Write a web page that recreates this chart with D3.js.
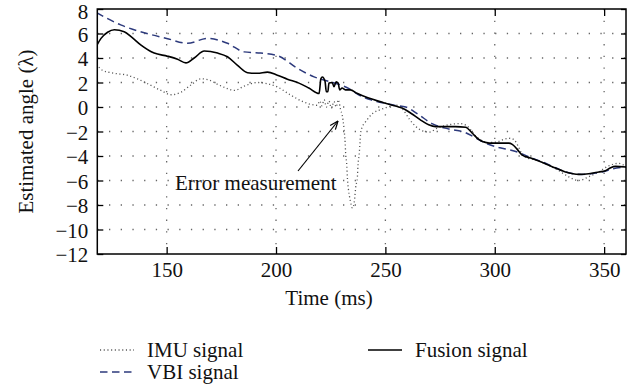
<!DOCTYPE html>
<html>
<head>
<meta charset="utf-8">
<script src="https://cdn.jsdelivr.net/npm/d3@7"></script>
<style>
  html, body { margin: 0; padding: 0; background: #fff; }
  svg { display: block; font-family: "Liberation Serif", "DejaVu Serif", serif; }
</style>
</head>
<body>
<svg id="chart" width="637" height="389"></svg>
<script>
// ---- data ----
const xTicks = [150, 200, 250, 300, 350];
const yTicks = [-12, -10, -8, -6, -4, -2, 0, 2, 4, 6, 8];

const imuT = [118, 120.6, 126.1, 132, 136.6, 141.3, 147.4, 152, 156.5, 161.1, 165.7, 169.5, 173.3, 177.8, 181, 185.4, 191.5, 196.1, 200.6, 206.8, 212.8, 218.9,
  220, 221, 222, 223, 224.2, 225.3, 226.5, 227.5, 228.5, 229.5, 230.3, 231.1, 231.6, 231.9, 232.3, 232.6, 233.1, 233.7, 234.4, 234.9,
  235.4, 236.0, 236.4, 237.2, 237.5, 238.0, 238.4, 238.7, 239.5, 241.0, 244.0, 248, 252, 255, 258, 261, 264, 267, 270, 274, 279, 284, 287,
  292, 297, 301, 304, 307, 309, 311, 313, 320, 329.3, 333.8, 338.4, 342.9, 347.5, 352.1, 356.7, 360];
const imuV = [3.5, 3.0, 2.75, 2.6, 2.3, 1.9, 1.35, 1.0, 1.2, 1.8, 2.3, 2.2, 1.85, 1.5, 1.35, 1.7, 2.0, 1.9, 1.64, 0.96, 0.4, 0.14,
  0.5, 0.1, 0.6, 0.0, 0.5, -0.1, 0.45, 0.0, 0.6, -0.2, -0.7, -1.8, -2.9, -4.0, -4.6, -5.7, -6.7, -7.4, -8.0, -8.25,
  -8.1, -7.4, -6.6, -5.7, -4.7, -3.9, -2.9, -2.1, -1.6, -1.2, -0.55, -0.2, 0.05, 0.15, -0.2, -1.0, -1.6, -1.95, -2.05, -1.7, -1.45, -1.35, -1.5,
  -2.5, -2.9, -2.85, -2.65, -2.55, -2.7, -3.3, -4.0, -4.4, -5.2, -5.7, -6.0, -5.7, -5.3, -4.8, -4.6, -4.9];

const vbiT = [118, 129, 141, 150, 159.5, 168.7, 177.8, 185.4, 193, 200.6, 209.8, 217.4, 224, 229.6, 233.4, 237.2, 243, 248.5, 254, 259.3, 265, 271.3,
  279, 286.7, 291, 295.8, 301.8, 307, 311.5, 316, 322, 327, 332.3, 336, 339.8, 344, 349, 354, 360];
const vbiV = [7.7, 6.7, 6.0, 5.6, 5.2, 5.6, 5.2, 4.5, 4.4, 4.2, 3.15, 2.46, 2.1, 1.8, 1.5, 1.05, 0.6, 0.35, 0.15, 0.0, -0.6, -1.36,
  -1.8, -2.1, -2.5, -2.95, -3.3, -3.5, -3.75, -4.1, -4.5, -4.9, -5.3, -5.45, -5.5, -5.45, -5.3, -5.05, -4.9];

const fusT = [118, 120, 123, 126.1, 130.6, 134, 138.3, 144.3, 150.4, 155, 158.8, 162.6, 167.2, 173.3, 177.8, 182.4, 187, 191.5, 196.1, 200.6, 205.2, 210.5, 215, 219.7,
  220.5, 221.2, 222.4, 223.0, 223.7, 224.2, 225.7, 226.5, 227.5, 228.4, 229.1, 230.2, 231.7, 234.0, 237.0,
  242, 248.3, 252, 256.1, 259, 262, 266, 269.8, 273, 277.5, 282, 286.7, 289.5, 292.7, 297.3, 302, 306.4, 308, 310, 312.4, 316, 320.1, 326, 332.3, 338.4, 343, 347.6, 350.6, 353, 355.2, 360];
const fusV = [5.0, 5.6, 6.1, 6.3, 6.15, 5.7, 5.05, 4.4, 4.15, 3.9, 3.6, 4.0, 4.57, 4.4, 4.1, 3.4, 2.8, 2.75, 2.85, 2.6, 2.27, 1.95, 1.55, 1.1,
  2.3, 2.45, 2.1, 1.25, 1.25, 1.95, 2.0, 1.65, 2.05, 1.95, 1.4, 1.55, 1.4, 1.4, 1.12,
  0.75, 0.4, 0.2, 0.0, -0.2, -0.55, -1.05, -1.45, -1.6, -1.6, -1.6, -1.65, -2.1, -2.65, -2.95, -2.95, -2.95, -3.05, -3.4, -3.9, -4.15, -4.4, -4.85, -5.3, -5.5, -5.45, -5.3, -5.2, -4.95, -4.85, -4.9];

const seriesNames = ["IMU signal", "VBI signal", "Fusion signal"];
const annotationText = "Error measurement";
const xLabel = "Time (ms)";
const yLabel = "Estimated angle (\u03BB)";

// ---- layout ----
const svg = d3.select("#chart");
const L = 97.3, R = 626, T = 9, B = 254;
const x = d3.scaleLinear().domain([118.3, 360]).range([L, R]);
const y = d3.scaleLinear().domain([-12, 8]).range([B, T]);
const FS = 21;

svg.append("defs").append("clipPath").attr("id", "clip")
  .append("rect").attr("x", L).attr("y", T).attr("width", R - L).attr("height", B - T);

// grid
const grid = svg.append("g").attr("stroke", "#666").attr("stroke-width", 1.3)
  .attr("stroke-dasharray", "1.3,10.4");
grid.selectAll("line.gx").data(xTicks).join("line")
  .attr("x1", d => x(d)).attr("x2", d => x(d)).attr("y1", T).attr("y2", B);
grid.selectAll("line.gy").data(yTicks.filter(d => d > -12 && d < 8)).join("line")
  .attr("x1", L).attr("x2", R).attr("y1", d => y(d)).attr("y2", d => y(d));

// series
const plot = svg.append("g").attr("clip-path", "url(#clip)");
const line = d3.line().x(d => x(d[0])).y(d => y(d[1])).curve(d3.curveMonotoneX);
const zip = (a, b) => a.map((t, i) => [t, b[i]]);

plot.append("path").datum(zip(imuT, imuV)).attr("d", line)
  .attr("fill", "none").attr("stroke", "#555").attr("stroke-width", 1.3).attr("stroke-dasharray", "1.1,2.6");
plot.append("path").datum(zip(vbiT, vbiV)).attr("d", line)
  .attr("fill", "none").attr("stroke", "#2d3a7c").attr("stroke-width", 1.5).attr("stroke-dasharray", "7.5,4.5");
plot.append("path").datum(zip(fusT, fusV)).attr("d", line)
  .attr("fill", "none").attr("stroke", "#000").attr("stroke-width", 1.6);

// axes
const axL = svg.append("g").attr("transform", `translate(${L},0)`)
  .call(d3.axisLeft(y).tickValues(yTicks).tickSizeInner(-6).tickSizeOuter(0).tickPadding(9));
const axB = svg.append("g").attr("transform", `translate(0,${B})`)
  .call(d3.axisBottom(x).tickValues(xTicks).tickSizeInner(-7).tickSizeOuter(0).tickPadding(8).tickFormat(d3.format("d")));
const axR = svg.append("g").attr("transform", `translate(${R},0)`)
  .call(d3.axisRight(y).tickValues(yTicks).tickSizeInner(-5).tickSizeOuter(0).tickFormat(""));
const axT = svg.append("g").attr("transform", `translate(0,${T})`)
  .call(d3.axisTop(x).tickValues(xTicks).tickSizeInner(-7).tickSizeOuter(0).tickFormat(""));
[axL, axB, axR, axT].forEach(a => {
  a.select(".domain").remove();
  a.selectAll(".tick line").attr("stroke", "#000").attr("stroke-width", 1.3);
  a.selectAll(".tick text").attr("font-size", FS).attr("font-family", "Liberation Serif").attr("fill", "#111");
});
axL.selectAll(".tick text").attr("dy", d => d === 8 ? "0.45em" : "0.38em");
svg.append("rect").attr("x", L).attr("y", T).attr("width", R - L).attr("height", B - T)
  .attr("fill", "none").attr("stroke", "#000").attr("stroke-width", 1.5);

// axis labels
svg.append("text").attr("x", 329).attr("y", 305).attr("text-anchor", "middle")
  .attr("font-size", FS).attr("fill", "#111").text(xLabel);
svg.append("text").attr("transform", `translate(33,${(T + B) / 2}) rotate(-90)`).attr("text-anchor", "middle")
  .attr("font-size", FS).attr("fill", "#111").text(yLabel);

// annotation
svg.append("text").attr("x", 175).attr("y", 190).attr("font-size", FS).attr("fill", "#111").text(annotationText);
const ax0 = 298, ay0 = 171, ax1 = 338, ay1 = 121;
svg.append("line").attr("x1", ax0).attr("y1", ay0).attr("x2", ax1).attr("y2", ay1)
  .attr("stroke", "#000").attr("stroke-width", 1.2);
const ang = Math.atan2(ay1 - ay0, ax1 - ax0), hl = 9;
[-0.38, 0.38].forEach(da => {
  svg.append("line").attr("x1", ax1).attr("y1", ay1)
    .attr("x2", ax1 - hl * Math.cos(ang + da)).attr("y2", ay1 - hl * Math.sin(ang + da))
    .attr("stroke", "#000").attr("stroke-width", 1.2);
});

// legend
const leg = [
  { name: seriesNames[0], x: 100, y: 350, dash: "1.1,2.6", color: "#555", w: 1.3 },
  { name: seriesNames[1], x: 100, y: 372, dash: "7.5,4.5", color: "#2d3a7c", w: 1.5 },
  { name: seriesNames[2], x: 368, y: 350, dash: null, color: "#000", w: 1.6 }
];
leg.forEach(l => {
  svg.append("line").attr("x1", l.x).attr("x2", l.x + 34).attr("y1", l.y).attr("y2", l.y)
    .attr("stroke", l.color).attr("stroke-width", l.w).attr("stroke-dasharray", l.dash);
  svg.append("text").attr("x", l.x + 47).attr("y", l.y + 7).attr("font-size", FS).attr("fill", "#111").text(l.name);
});
</script>
</body>
</html>
